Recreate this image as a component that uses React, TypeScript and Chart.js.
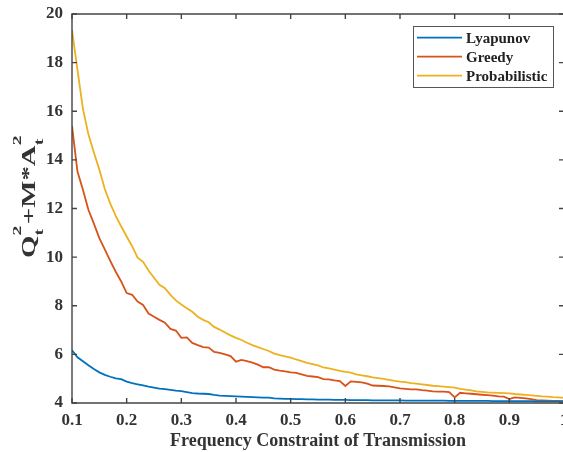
import React, { useEffect, useRef } from "react";
import { Chart, registerables } from "chart.js";

Chart.register(...registerables);

const xValues = [
  0.10, 0.11, 0.12, 0.13, 0.14, 0.15, 0.16, 0.17, 0.18, 0.19,
  0.20, 0.21, 0.22, 0.23, 0.24, 0.25, 0.26, 0.27, 0.28, 0.29,
  0.30, 0.31, 0.32, 0.33, 0.34, 0.35, 0.36, 0.37, 0.38, 0.39,
  0.40, 0.41, 0.42, 0.43, 0.44, 0.45, 0.46, 0.47, 0.48, 0.49,
  0.50, 0.51, 0.52, 0.53, 0.54, 0.55, 0.56, 0.57, 0.58, 0.59,
  0.60, 0.61, 0.62, 0.63, 0.64, 0.65, 0.66, 0.67, 0.68, 0.69,
  0.70, 0.71, 0.72, 0.73, 0.74, 0.75, 0.76, 0.77, 0.78, 0.79,
  0.80, 0.81, 0.82, 0.83, 0.84, 0.85, 0.86, 0.87, 0.88, 0.89,
  0.90, 0.91, 0.92, 0.93, 0.94, 0.95, 0.96, 0.97, 0.98, 0.99,
  1.00,
];

const lyapunov = [
  6.17, 5.88, 5.72, 5.55, 5.40, 5.26, 5.16, 5.08, 5.01, 4.98,
  4.88, 4.82, 4.77, 4.72, 4.67, 4.63, 4.59, 4.57, 4.54, 4.51,
  4.49, 4.45, 4.41, 4.39, 4.38, 4.37, 4.33, 4.30, 4.29, 4.28,
  4.27, 4.26, 4.25, 4.24, 4.23, 4.22, 4.22, 4.19, 4.18, 4.17,
  4.17, 4.16, 4.16, 4.15, 4.15, 4.14, 4.14, 4.14, 4.13, 4.13,
  4.13, 4.12, 4.12, 4.12, 4.12, 4.11, 4.11, 4.11, 4.11, 4.11,
  4.11, 4.10, 4.10, 4.10, 4.10, 4.10, 4.10, 4.10, 4.10, 4.09,
  4.09, 4.09, 4.09, 4.09, 4.09, 4.09, 4.09, 4.08, 4.08, 4.08,
  4.08, 4.08, 4.08, 4.08, 4.08, 4.07, 4.07, 4.07, 4.07, 4.07,
  4.07,
];

const greedy = [
  15.40, 13.52, 12.77, 11.95, 11.38, 10.78, 10.32, 9.85, 9.40, 9.00,
  8.52, 8.45, 8.17, 8.03, 7.68, 7.55, 7.42, 7.30, 7.05, 6.98,
  6.68, 6.70, 6.47, 6.38, 6.30, 6.28, 6.10, 6.06, 6.00, 5.93,
  5.70, 5.77, 5.72, 5.66, 5.58, 5.47, 5.47, 5.37, 5.33, 5.30,
  5.26, 5.24, 5.18, 5.12, 5.09, 5.06, 4.98, 4.97, 4.93, 4.90,
  4.70, 4.89, 4.87, 4.85, 4.80, 4.72, 4.71, 4.70, 4.68, 4.64,
  4.60, 4.58, 4.56, 4.56, 4.53, 4.51, 4.48, 4.47, 4.47, 4.45,
  4.23, 4.42, 4.40, 4.38, 4.36, 4.34, 4.32, 4.30, 4.27, 4.26,
  4.16, 4.23, 4.21, 4.19, 4.16, 4.12, 4.11, 4.10, 4.09, 4.09,
  4.08,
];

const probabilistic = [
  19.35, 17.70, 16.10, 15.05, 14.30, 13.60, 12.80, 12.20, 11.70, 11.26,
  10.85, 10.45, 9.98, 9.81, 9.45, 9.15, 8.86, 8.72, 8.45, 8.22,
  8.05, 7.90, 7.75, 7.55, 7.42, 7.32, 7.13, 7.02, 6.90, 6.78,
  6.68, 6.59, 6.48, 6.38, 6.30, 6.22, 6.14, 6.03, 5.97, 5.92,
  5.87, 5.79, 5.72, 5.65, 5.60, 5.55, 5.46, 5.42, 5.37, 5.32,
  5.28, 5.25, 5.18, 5.14, 5.10, 5.05, 5.02, 4.99, 4.95, 4.91,
  4.88, 4.86, 4.82, 4.80, 4.77, 4.74, 4.71, 4.69, 4.67, 4.65,
  4.63, 4.58, 4.55, 4.52, 4.48, 4.46, 4.44, 4.43, 4.42, 4.41,
  4.40, 4.37, 4.35, 4.33, 4.31, 4.29, 4.27, 4.26, 4.24, 4.23,
  4.21,
];

const seriesNames = ["Lyapunov", "Greedy", "Probabilistic"];
const seriesColors = ["#0072BD", "#D95319", "#EDB120"];

const xTickValues = [0.1, 0.2, 0.3, 0.4, 0.5, 0.6, 0.7, 0.8, 0.9, 1.0];
const xTickLabels = ["0.1", "0.2", "0.3", "0.4", "0.5", "0.6", "0.7", "0.8", "0.9", "1"];
const yTickValues = [4, 6, 8, 10, 12, 14, 16, 18, 20];
const yTickLabels = ["4", "6", "8", "10", "12", "14", "16", "18", "20"];

const xTitle = "Frequency Constraint of Transmission";

const FONT = '"Liberation Serif", "Times New Roman", serif';
const AXIS_COLOR = "#444444";
const TEXT_COLOR = "#333333";

const decorPlugin = {
  id: "matlabDecor",
  afterDatasetsDraw(chart: any) {
    const { ctx, chartArea } = chart;
    const { left, right, top, bottom } = chartArea;
    const xs = chart.scales.x;
    const ys = chart.scales.y;
    ctx.save();
    ctx.strokeStyle = AXIS_COLOR;
    ctx.lineWidth = 1.4;
    ctx.beginPath();
    ctx.rect(left, top, right - left, bottom - top);
    ctx.stroke();
    const tl = 5;
    ctx.beginPath();
    xTickValues.forEach((v) => {
      const px = xs.getPixelForValue(v);
      ctx.moveTo(px, bottom);
      ctx.lineTo(px, bottom - tl);
      ctx.moveTo(px, top);
      ctx.lineTo(px, top + tl);
    });
    yTickValues.forEach((v) => {
      const py = ys.getPixelForValue(v);
      ctx.moveTo(left, py);
      ctx.lineTo(left + tl, py);
      ctx.moveTo(right, py);
      ctx.lineTo(right - tl, py);
    });
    ctx.stroke();
    ctx.restore();
  },
  afterDraw(chart: any) {
    const { ctx, chartArea } = chart;
    const { left, right } = chartArea;
    ctx.save();
    // x title
    ctx.fillStyle = TEXT_COLOR;
    ctx.font = `bold 18px ${FONT}`;
    ctx.textAlign = "center";
    ctx.textBaseline = "alphabetic";
    ctx.fillText(xTitle, (left + right) / 2, 446);

    // y title with sub/superscripts
    const mainFont = `bold 19px ${FONT}`;
    const smallFont = `bold 13px ${FONT}`;
    const parts: { t: string; kind: "main" | "stack" }[] = [
      { t: "Q", kind: "main" },
      { t: "", kind: "stack" },
      { t: "+M*A", kind: "main" },
      { t: "", kind: "stack" },
    ];
    const measure = (p: any) => {
      if (p.kind === "main") {
        ctx.font = mainFont;
        return ctx.measureText(p.t).width;
      }
      ctx.font = smallFont;
      return Math.max(ctx.measureText("t").width, ctx.measureText("2").width) + 1;
    };
    const natural = parts.reduce((s, p) => s + measure(p), 0);
    const targetLen = 124;
    const sx = targetLen / natural;
    const baseX = 35;
    const startY = 258;
    ctx.translate(baseX, startY);
    ctx.rotate(-Math.PI / 2);
    ctx.scale(sx, 1);
    ctx.textAlign = "left";
    ctx.textBaseline = "alphabetic";
    let cx = 0;
    parts.forEach((p) => {
      const w = measure(p);
      if (p.kind === "main") {
        ctx.font = mainFont;
        ctx.fillText(p.t, cx, 0);
      } else {
        ctx.font = smallFont;
        ctx.fillText("t", cx, 8);
        ctx.fillText("2", cx, -14);
      }
      cx += w;
    });
    ctx.restore();

    // legend
    ctx.save();
    const lx = 413.5, ly = 26.5, lw = 140, lh = 61;
    ctx.fillStyle = "#ffffff";
    ctx.fillRect(lx, ly, lw, lh);
    ctx.strokeStyle = "#555555";
    ctx.lineWidth = 1;
    ctx.strokeRect(lx, ly, lw, lh);
    const rows = [37.7, 56.7, 75.7];
    chart.data.datasets.forEach((ds: any, i: number) => {
      ctx.strokeStyle = ds.borderColor;
      ctx.lineWidth = 1.8;
      ctx.beginPath();
      ctx.moveTo(417, rows[i]);
      ctx.lineTo(462, rows[i]);
      ctx.stroke();
      ctx.fillStyle = "#222222";
      ctx.font = `bold 15px ${FONT}`;
      ctx.textAlign = "left";
      ctx.textBaseline = "middle";
      ctx.fillText(ds.label, 466, rows[i] + 1);
    });
    ctx.restore();
  },
};

export default function App() {
  const canvasRef = useRef<HTMLCanvasElement | null>(null);

  useEffect(() => {
    const canvas = canvasRef.current;
    if (!canvas) return;
    const seriesData = [lyapunov, greedy, probabilistic];
    const chart = new Chart(canvas, {
      type: "line",
      data: {
        datasets: seriesData.map((arr, i) => ({
          label: seriesNames[i],
          data: xValues.map((x, j) => ({ x, y: arr[j] })),
          borderColor: seriesColors[i],
          backgroundColor: seriesColors[i],
          borderWidth: 1.8,
          pointRadius: 0,
          tension: 0,
          fill: false,
        })),
      },
      options: {
        animation: false,
        responsive: false,
        devicePixelRatio: 1,
        layout: { padding: { top: 14, right: 1, left: 0, bottom: 0 } },
        plugins: {
          legend: { display: false },
          tooltip: { enabled: false },
          title: { display: false },
        },
        scales: {
          x: {
            type: "linear",
            min: 0.1,
            max: 1.0,
            grid: { display: false, drawTicks: false },
            border: { display: false },
            afterBuildTicks: (scale: any) => {
              scale.ticks = xTickValues.map((v) => ({ value: v }));
            },
            afterFit: (scale: any) => {
              scale.height = 49;
              scale.paddingLeft = 0;
              scale.paddingRight = 0;
            },
            ticks: {
              padding: 7,
              maxRotation: 0,
              autoSkip: false,
              color: TEXT_COLOR,
              font: { family: FONT, size: 17, weight: "bold" },
              callback: (v: any) => {
                const i = xTickValues.findIndex((t) => Math.abs(t - Number(v)) < 1e-6);
                return i >= 0 ? xTickLabels[i] : "";
              },
            },
          },
          y: {
            type: "linear",
            min: 4,
            max: 20,
            grid: { display: false, drawTicks: false },
            border: { display: false },
            afterBuildTicks: (scale: any) => {
              scale.ticks = yTickValues.map((v) => ({ value: v }));
            },
            afterFit: (scale: any) => {
              scale.width = 72;
              scale.paddingTop = 0;
              scale.paddingBottom = 0;
            },
            ticks: {
              padding: 9,
              autoSkip: false,
              color: TEXT_COLOR,
              font: { family: FONT, size: 17, weight: "bold" },
              callback: (v: any) => {
                const i = yTickValues.findIndex((t) => Math.abs(t - Number(v)) < 1e-6);
                return i >= 0 ? yTickLabels[i] : "";
              },
            },
          },
        },
      },
      plugins: [decorPlugin],
    } as any);
    return () => chart.destroy();
  }, []);

  return (
    <div
      style={{
        position: "fixed",
        left: 0,
        top: 0,
        width: 563,
        height: 452,
        overflow: "hidden",
        background: "#ffffff",
      }}
    >
      <canvas ref={canvasRef} width={565} height={452} style={{ display: "block" }} />
    </div>
  );
}
